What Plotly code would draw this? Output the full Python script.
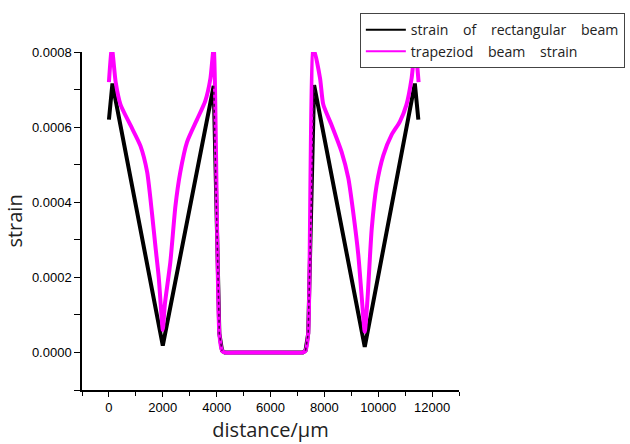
import plotly.graph_objects as go

# distance (um) and strain for the rectangular beam
rect_x = [0, 130, 2000, 3890, 4100, 4200, 4300, 5000, 6000, 7200, 7300, 7400, 7620, 9500, 11360, 11490]
rect_y = [0.00062, 0.000716, 0.000018, 0.00071, 0.00005, 0.000005, 0.0, 0.0, 0.0, 0.0, 0.000005, 0.00005,
          0.000712, 0.000015, 0.000716, 0.00062]

# distance (um) and strain for the trapezoid beam
trap_x = [0, 110, 250, 430, 800, 1170, 1420, 1600, 1730, 1850, 1940, 2000, 2080, 2280, 2470, 2650, 2900,
          3270, 3580, 3770, 3890, 4100, 4200, 4300, 5000, 6000, 7200, 7300, 7400, 7600, 7840, 7960, 8270,
          8640, 8890, 9070, 9260, 9385, 9500, 9600, 9760, 9940, 10190, 10500, 10800, 11050, 11240, 11370,
          11500]
trap_y = [0.00072, 0.00081, 0.00072, 0.00066, 0.000605, 0.00055, 0.00048, 0.00037, 0.00028, 0.0002,
          0.00011, 0.00006, 0.00013, 0.00024, 0.00039, 0.00048, 0.00056, 0.00062, 0.00067, 0.00073,
          0.00081, 0.00005, 0.000005, 0.0, 0.0, 0.0, 0.0, 0.000005, 0.00005, 0.00081, 0.00073, 0.00066,
          0.000605, 0.000534, 0.000464, 0.000374, 0.00026, 0.00015, 0.000055, 0.00014, 0.00033, 0.000445,
          0.000525, 0.00058, 0.000614, 0.00066, 0.00073, 0.00081, 0.00072]

series_names = ["strain\u00a0\u00a0\u00a0 of\u00a0\u00a0\u00a0 rectangular\u00a0\u00a0\u00a0 beam",
                "trapeziod\u00a0\u00a0\u00a0 beam\u00a0\u00a0\u00a0 strain"]
series_colors = ["#000000", "#FF00FF"]

x_ticks = [0, 2000, 4000, 6000, 8000, 10000, 12000]
y_ticks = [0.0, 0.0002, 0.0004, 0.0006, 0.0008]
y_tick_text = ["0.0000", "0.0002", "0.0004", "0.0006", "0.0008"]

fig = go.Figure()
fig.add_trace(go.Scatter(x=rect_x, y=rect_y, mode="lines", showlegend=False,
                         line=dict(color=series_colors[0], width=4)))
fig.add_trace(go.Scatter(x=trap_x, y=trap_y, mode="lines", showlegend=False,
                         line=dict(color=series_colors[1], width=4, shape="spline", smoothing=0.6)))
# dotted overlap of the two steep flanks
fig.add_trace(go.Scatter(x=rect_x[3:6], y=rect_y[3:6], mode="lines", showlegend=False, hoverinfo="skip",
                         line=dict(color="#4a004a", width=1.5, dash="dot")))
fig.add_trace(go.Scatter(x=rect_x[10:13], y=rect_y[10:13], mode="lines", showlegend=False, hoverinfo="skip",
                         line=dict(color="#4a004a", width=1.5, dash="dot")))
# legend entries (thin legend lines)
for name, color in zip(series_names, series_colors):
    fig.add_trace(go.Scatter(x=[None], y=[None], mode="lines", name=name,
                             line=dict(color=color, width=2)))

axis_font = dict(family="Arial, Liberation Sans, sans-serif", size=13, color="#000000")
title_font = dict(family="Open Sans, sans-serif", size=20, color="#222222")

fig.update_layout(
    width=630, height=444,
    margin=dict(l=82, r=171, t=52, b=54, autoexpand=False),
    paper_bgcolor="white", plot_bgcolor="white",
    showlegend=True,
    legend=dict(x=0.737, y=1.115, xanchor="left", yanchor="top",
                bgcolor="white", bordercolor="#444444", borderwidth=1,
                font=dict(family="Open Sans, sans-serif", size=14.1, color="#222222"),
                itemwidth=40, tracegroupgap=0),
    xaxis=dict(range=[-1000, 13000], tickvals=x_ticks, ticktext=[str(v) for v in x_ticks],
               ticks="outside", ticklen=5, tickwidth=1.2, tickcolor="#000000",
               minor=dict(dtick=1000, tick0=-1000, ticks="outside", ticklen=4, tickcolor="#000000"),
               showline=True, linecolor="#000000", linewidth=1.5, showgrid=False, zeroline=False,
               tickfont=axis_font,
               title=dict(text="distance/\u00b5m", font=title_font, standoff=9)),
    yaxis=dict(range=[-0.0001, 0.0008], tickvals=y_ticks, ticktext=y_tick_text,
               ticks="outside", ticklen=6, tickwidth=1.2, tickcolor="#000000",
               minor=dict(dtick=0.0001, tick0=0, ticks="outside", ticklen=6, tickcolor="#000000"),
               showline=True, linecolor="#000000", linewidth=1.5, showgrid=False, zeroline=False,
               tickfont=axis_font,
               title=dict(text="strain", font=title_font, standoff=4)),
)

fig.write_html("out.html")
